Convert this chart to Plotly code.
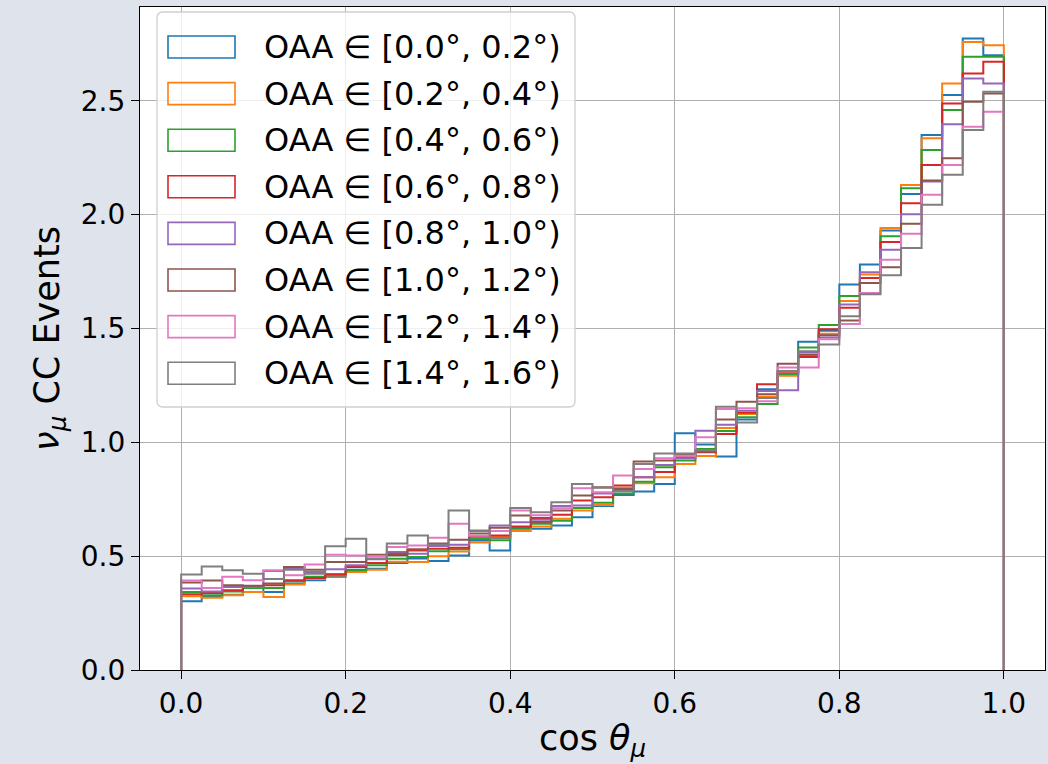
import numpy as np
import plotly.graph_objects as go

# ---------------- data ----------------
bin_lo = 0.0
bin_hi = 1.0
n_bins = 40

labels = ["OAA ∈ [0.0°, 0.2°)", "OAA ∈ [0.2°, 0.4°)", "OAA ∈ [0.4°, 0.6°)", "OAA ∈ [0.6°, 0.8°)",
          "OAA ∈ [0.8°, 1.0°)", "OAA ∈ [1.0°, 1.2°)", "OAA ∈ [1.2°, 1.4°)", "OAA ∈ [1.4°, 1.6°)"]

oaa_00_02 = [0.302, 0.321, 0.330, 0.360, 0.343, 0.380, 0.394, 0.409, 0.440, 0.445,
             0.470, 0.490, 0.479, 0.503, 0.569, 0.525, 0.620, 0.620, 0.635, 0.671,
             0.720, 0.769, 0.784, 0.817, 1.040, 0.990, 0.938, 1.100, 1.233, 1.300,
             1.442, 1.490, 1.693, 1.781, 1.930, 2.090, 2.350, 2.525, 2.773, 2.700]
oaa_02_04 = [0.324, 0.317, 0.328, 0.343, 0.321, 0.375, 0.400, 0.415, 0.430, 0.440,
             0.475, 0.474, 0.500, 0.520, 0.560, 0.585, 0.610, 0.630, 0.664, 0.700,
             0.725, 0.800, 0.820, 0.846, 0.905, 0.940, 1.063, 1.124, 1.200, 1.292,
             1.380, 1.477, 1.620, 1.737, 1.941, 2.130, 2.335, 2.576, 2.758, 2.744]
oaa_04_06 = [0.343, 0.328, 0.345, 0.360, 0.360, 0.390, 0.410, 0.420, 0.438, 0.460,
             0.489, 0.496, 0.521, 0.530, 0.575, 0.570, 0.625, 0.642, 0.655, 0.711,
             0.734, 0.775, 0.827, 0.890, 0.920, 0.971, 1.050, 1.110, 1.168, 1.300,
             1.416, 1.515, 1.642, 1.700, 1.905, 2.116, 2.284, 2.459, 2.693, 2.693]
oaa_06_08 = [0.333, 0.338, 0.350, 0.365, 0.372, 0.394, 0.404, 0.419, 0.452, 0.470,
             0.505, 0.525, 0.533, 0.537, 0.585, 0.591, 0.630, 0.667, 0.682, 0.744,
             0.759, 0.810, 0.846, 0.870, 0.934, 0.956, 1.036, 1.130, 1.255, 1.310,
             1.375, 1.496, 1.591, 1.722, 1.880, 2.050, 2.218, 2.488, 2.620, 2.671]
oaa_08_10 = [0.358, 0.345, 0.365, 0.365, 0.435, 0.448, 0.430, 0.442, 0.460, 0.486,
             0.518, 0.510, 0.545, 0.550, 0.610, 0.635, 0.649, 0.660, 0.720, 0.722,
             0.775, 0.790, 0.846, 0.900, 0.930, 1.051, 1.077, 1.138, 1.225, 1.229,
             1.394, 1.460, 1.605, 1.747, 1.846, 2.002, 2.145, 2.397, 2.598, 2.576]
oaa_10_12 = [0.384, 0.393, 0.372, 0.370, 0.380, 0.452, 0.440, 0.474, 0.474, 0.506,
             0.510, 0.530, 0.555, 0.572, 0.600, 0.625, 0.679, 0.650, 0.700, 0.766,
             0.803, 0.795, 0.916, 0.920, 0.945, 0.960, 1.100, 1.178, 1.211, 1.345,
             1.385, 1.470, 1.535, 1.700, 1.769, 1.960, 2.150, 2.247, 2.496, 2.532]
oaa_12_14 = [0.393, 0.360, 0.409, 0.394, 0.438, 0.416, 0.463, 0.506, 0.503, 0.500,
             0.540, 0.547, 0.581, 0.642, 0.590, 0.610, 0.700, 0.680, 0.710, 0.798,
             0.781, 0.854, 0.883, 0.930, 0.941, 1.022, 1.146, 1.149, 1.180, 1.328,
             1.328, 1.452, 1.520, 1.656, 1.802, 1.916, 2.087, 2.218, 2.386, 2.452]
oaa_14_16 = [0.419, 0.454, 0.438, 0.423, 0.400, 0.440, 0.423, 0.544, 0.576, 0.490,
             0.555, 0.591, 0.550, 0.700, 0.613, 0.580, 0.711, 0.693, 0.737, 0.817,
             0.800, 0.785, 0.905, 0.951, 0.951, 0.965, 1.156, 1.087, 1.194, 1.313,
             1.400, 1.430, 1.554, 1.650, 1.734, 1.853, 2.043, 2.175, 2.372, 2.540]

series = [oaa_00_02, oaa_02_04, oaa_04_06, oaa_06_08, oaa_08_10, oaa_10_12, oaa_12_14, oaa_14_16]
colors = ["#1f77b4", "#ff7f0e", "#2ca02c", "#d62728", "#9467bd", "#8c564b", "#e377c2", "#7f7f7f"]

x_ticks = [0.0, 0.2, 0.4, 0.6, 0.8, 1.0]
y_ticks = [0.0, 0.5, 1.0, 1.5, 2.0, 2.5]

# ---------------- figure ----------------
W, H = 1048, 764
L, R, T, B = 140, 3, 7, 94
pw, ph = W - L - R, H - T - B
FONT = "DejaVu Sans"
BG = "#dfe3eb"

edges = np.linspace(bin_lo, bin_hi, n_bins + 1)

fig = go.Figure()
for vals, col, lab in zip(series, colors, labels):
    xs = [edges[0]] + list(edges[:-1]) + [edges[-1]]
    ys = [0.0] + list(vals) + [0.0]
    fig.add_trace(go.Scatter(x=xs, y=ys, mode="lines", line=dict(color=col, width=2, shape="hv"),
                             name=lab, showlegend=False, hoverinfo="skip"))

ymax = max(max(s) for s in series) * 1.05

fig.update_layout(
    width=W, height=H,
    margin=dict(l=L, r=R, t=T, b=B),
    paper_bgcolor=BG,
    plot_bgcolor="white",
    font=dict(family=FONT, size=28, color="black"),
    xaxis=dict(range=[-0.05, 1.05], tickvals=x_ticks, ticktext=[f"{v:.1f}" for v in x_ticks],
               showgrid=True, gridcolor="#b0b0b0", gridwidth=1.3, zeroline=False,
               showline=True, linecolor="black", linewidth=1.3, mirror=True,
               ticks="outside", ticklen=8, tickwidth=1.3, tickcolor="black",
               tickfont=dict(size=28), title=dict(text="cos <i>θ</i><sub><i>μ</i></sub>", font=dict(size=35), standoff=6)),
    yaxis=dict(range=[0, ymax], tickvals=y_ticks, ticktext=[f"{v:.1f}" for v in y_ticks],
               showgrid=True, gridcolor="#b0b0b0", gridwidth=1.3, zeroline=False,
               showline=True, linecolor="black", linewidth=1.3, mirror=True,
               ticks="outside", ticklen=8, tickwidth=1.3, tickcolor="black",
               tickfont=dict(size=28), title=dict(text="<i>ν</i><sub><i>μ</i></sub> CC Events", font=dict(size=35), standoff=10)),
)

# ---------------- legend (drawn manually, matplotlib style) ----------------
def px(xpix):
    return (xpix - L) / pw

def py(ypix):
    return (H - B - ypix) / ph

def rounded_rect(x0, y0, x1, y1, r):
    # pixel coords (y down) -> path in paper coords with rounded corners
    pts = []
    def P(x, y):
        return f"{px(x):.5f},{py(y):.5f}"
    return (f"M {P(x0 + r, y0)} L {P(x1 - r, y0)} Q {P(x1, y0)} {P(x1, y0 + r)} "
            f"L {P(x1, y1 - r)} Q {P(x1, y1)} {P(x1 - r, y1)} "
            f"L {P(x0 + r, y1)} Q {P(x0, y1)} {P(x0, y1 - r)} "
            f"L {P(x0, y0 + r)} Q {P(x0, y0)} {P(x0 + r, y0)} Z")

fig.add_shape(type="path", xref="paper", yref="paper", path=rounded_rect(157, 12, 575, 407, 6),
              fillcolor="rgba(255,255,255,0.8)", line=dict(color="#d0d0d0", width=1.3), layer="above")
row0, dy = 47, 46.6
for i, (col, lab) in enumerate(zip(colors, labels)):
    yc = row0 + i * dy
    fig.add_shape(type="rect", xref="paper", yref="paper", x0=px(168), x1=px(235), y0=py(yc + 11), y1=py(yc - 11),
                  fillcolor="rgba(0,0,0,0)", line=dict(color=col, width=1.6), layer="above")
    fig.add_annotation(xref="paper", yref="paper", x=px(262), y=py(yc), text=lab, showarrow=False,
                       xanchor="left", yanchor="middle", font=dict(size=32, color="black", family=FONT))

fig.write_html("out.html", config={"displayModeBar": False},
               post_script="document.body.style.margin='0';document.body.style.background='" + BG + "';")
